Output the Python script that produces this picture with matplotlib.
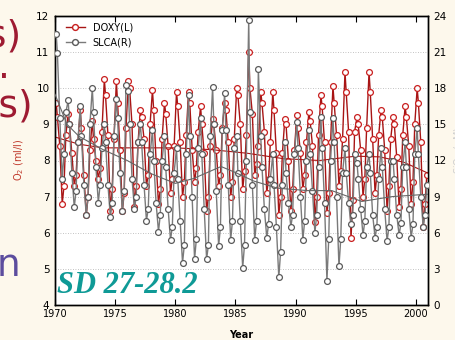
import matplotlib.pyplot as plt
import numpy as np
from matplotlib.lines import Line2D

# sampling: 6 cruises per year (fraction of year)
years = np.arange(1970, 2001)
sample_pos = [0.10, 0.20, 0.40, 0.60, 0.75, 0.90]

# oxygen, ml/l (left axis)
doxy = [
    9.6, 9.2, 8.4, 6.8, 7.3, 8.7,      # 1970
    9.3, 9.0, 8.2, 7.3, 7.6, 8.5,
    9.4, 8.9, 7.6, 6.5, 7.0, 8.3,
    9.1, 8.6, 8.0, 7.5, 7.8, 8.8,
    10.25, 9.8, 8.7, 6.6, 7.2, 8.6,
    10.2, 9.6, 8.3, 6.6, 7.1, 8.9,     # 1975
    10.2, 10.0, 9.0, 6.7, 7.3, 8.5,
    9.4, 9.2, 8.6, 7.3, 7.6, 9.0,
    9.95, 9.4, 8.0, 6.8, 7.2, 8.6,
    9.6, 9.3, 8.4, 7.1, 7.5, 8.4,
    9.9, 9.5, 8.5, 7.0, 7.4, 8.7,      # 1980
    9.9, 9.6, 8.3, 7.4, 7.8, 8.8,
    9.5, 9.0, 8.2, 6.6, 7.0, 8.4,
    9.15, 9.0, 8.3, 7.3, 7.6, 8.9,
    9.6, 9.4, 8.5, 7.0, 7.4, 8.6,
    10.0, 9.8, 9.0, 7.2, 7.7, 8.7,     # 1985
    11.0, 10.0, 9.3, 7.6, 7.9, 8.4,
    9.9, 9.6, 8.8, 7.1, 7.5, 8.5,
    9.9, 9.4, 8.2, 6.5, 7.0, 8.2,
    9.15, 9.0, 8.0, 6.6, 7.2, 8.3,
    9.25, 8.9, 8.2, 7.2, 7.6, 8.5,     # 1990
    9.35, 9.1, 8.4, 6.3, 7.0, 8.7,
    9.8, 9.5, 8.5, 6.55, 7.1, 8.5,
    10.05, 9.6, 8.7, 7.3, 7.7, 8.6,
    10.45, 9.9, 8.8, 5.85, 6.9, 8.8,
    9.2, 9.0, 8.3, 7.0, 7.5, 8.9,      # 1995
    10.45, 9.9, 8.6, 7.1, 7.6, 8.7,
    9.4, 9.2, 8.3, 6.6, 7.3, 8.6,
    9.2, 9.0, 8.1, 6.7, 7.2, 8.7,
    9.5, 9.2, 8.4, 6.8, 7.4, 9.0,
    10.0, 9.6, 8.5, 6.15, 6.8, 7.6,    # 2000
]

# silicate (right axis)
slca = [
    22.5, 20.9, 15.5, 10.5, 12.5, 16.0,   # 1970
    17.0, 15.0, 11.0, 8.1, 9.5, 13.5,
    16.5, 14.0, 10.0, 7.5, 9.0, 15.0,
    18.0, 16.0, 11.5, 8.5, 10.0, 13.0,
    15.0, 13.5, 10.0, 7.3, 8.5, 14.0,
    17.1, 15.5, 11.0, 7.8, 9.5, 18.3,     # 1975
    17.8, 15.0, 10.5, 8.0, 9.0, 13.5,
    15.0, 13.5, 10.0, 7.0, 8.0, 12.5,
    14.5, 12.0, 8.5, 6.1, 7.5, 12.0,
    14.0, 11.5, 8.0, 5.4, 6.5, 11.0,
    13.0, 10.5, 7.0, 3.5, 5.0, 12.5,      # 1980
    17.4, 14.0, 9.0, 3.8, 5.5, 13.0,
    15.5, 12.5, 8.0, 3.8, 5.0, 14.0,
    18.1, 15.0, 9.5, 4.9, 6.5, 14.5,
    17.6, 14.5, 10.0, 5.4, 7.0, 13.0,
    14.0, 11.0, 7.0, 3.1, 5.0, 12.0,      # 1985
    23.7, 16.0, 10.0, 5.4, 7.0, 19.6,
    14.0, 11.5, 8.0, 5.6, 6.7, 10.5,
    12.5, 10.0, 6.5, 2.3, 4.4, 10.0,
    13.5, 11.0, 8.5, 6.5, 7.5, 12.5,
    15.2, 13.0, 9.0, 5.4, 7.0, 12.0,      # 1990
    14.5, 12.5, 9.5, 6.0, 7.5, 11.5,
    15.6, 13.0, 8.5, 2.0, 5.5, 12.0,
    15.5, 13.5, 9.0, 3.2, 5.5, 11.0,
    13.0, 11.0, 8.5, 6.7, 7.5, 12.5,
    11.8, 10.5, 8.0, 5.8, 7.0, 11.5,      # 1995
    12.5, 11.0, 7.5, 5.6, 6.5, 10.5,
    13.0, 11.5, 8.0, 5.3, 6.5, 12.0,
    12.0, 10.5, 7.5, 5.8, 6.8, 11.5,
    13.5, 11.5, 8.0, 5.6, 6.7, 12.5,
    14.7, 12.5, 9.0, 6.5, 7.5, 10.0,      # 2000
]

# smoothed trends
doxy_trend_t = [1970, 1972, 1974, 1977, 1980, 1983, 1986, 1989, 1992, 1995, 1997, 1999, 2001]
doxy_trend = [8.65, 8.45, 8.35, 8.35, 8.35, 8.3, 8.2, 8.05, 8.0, 8.12, 8.1, 7.95, 7.65]
slca_trend_t = [1970, 1971, 1972, 1974, 1976, 1978, 1980, 1981.5, 1983.8, 1985, 1986.5,
                1988.5, 1991, 1993, 1995.5, 1998, 2001]
slca_trend = [17.5, 15.0, 14.0, 12.9, 12.0, 10.9, 10.1, 10.5, 11.5, 11.0, 10.3,
              9.7, 9.5, 9.5, 8.6, 9.0, 9.2]

t = np.array([y + p for y in years for p in sample_pos])

RED = "#a81515"
RED_M = "#c82020"
GREY = "#7a7a7a"
GREY_M = "#5a5a5a"

fig = plt.figure(figsize=(4.55, 3.40), dpi=100)
fig.patch.set_facecolor("#fdf8ec")
ax = fig.add_axes([55 / 455, 1 - 305 / 340, 373 / 455, 289 / 340])
ax.set_facecolor("white")
ax2 = ax.twinx()

ax.plot(t, doxy, color=RED, lw=1.0, marker="o", ms=4.2, mfc="white", mec=RED_M, mew=0.9, zorder=3)
ax.plot(doxy_trend_t, doxy_trend, color=RED, lw=0.8, zorder=4)
ax2.plot(t, slca, color=GREY, lw=1.0, marker="o", ms=4.2, mfc="white", mec=GREY_M, mew=0.9, zorder=3)
ax2.plot(slca_trend_t, slca_trend, color="#666666", lw=0.8, zorder=4)

ax.set_xlim(1970, 2001)
ax.set_ylim(4, 12)
ax2.set_ylim(0, 24)
ax.set_xticks(range(1970, 2001, 5))
ax.set_yticks(range(4, 13))
ax2.set_yticks(range(0, 25, 3))
for y in range(5, 12):
    ax.axhline(y, color="#b0b0b0", lw=0.6, ls=(0, (1, 2)), zorder=1)

ax.tick_params(axis="x", direction="in", length=4, top=True, labelsize=7, pad=3)
ax.tick_params(axis="y", direction="in", length=0, labelsize=7.5, pad=4)
ax2.tick_params(axis="y", direction="in", length=0, labelsize=7.5, pad=4)
for a in (ax, ax2):
    for s in a.spines.values():
        s.set_linewidth(1.0)

ax.set_xlabel("Year", fontsize=7, fontweight="bold", labelpad=8)
fig.text(19 / 455, 1 - 160 / 340, "O$_2$ (ml/l)", rotation=90, color="#c0392b",
         fontsize=7, ha="center", va="center")
fig.text(452 / 455, 1 - 150 / 340, "SiO$_4$ (µM)", rotation=90, color="#d0d0d0",
         fontsize=7, ha="left", va="center")

handles = [
    Line2D([], [], color=RED, lw=1.0, marker="o", ms=4.2, mfc="white", mec=RED_M),
    Line2D([], [], color=GREY, lw=1.0, marker="o", ms=4.2, mfc="white", mec=GREY_M),
]
leg = ax.legend(handles, ["DOXY(L)", "SLCA(R)"], loc="upper left", frameon=False,
                fontsize=7, handlelength=2.0, labelspacing=0.5, borderaxespad=0.3,
                bbox_to_anchor=(0.01, 1.0))
leg.set_zorder(10)

ax.text(0.005, 0.04, "SD 27-28.2", transform=ax.transAxes, fontsize=22,
        fontweight="bold", style="italic", family="Liberation Serif",
        color="#0f9a96", zorder=10)

# cut-off slide text on the left
fig.text(21 / 455, 1 - 36 / 340, "s)", color="#9e1b32", fontsize=27, ha="right", va="center")
fig.text(10 / 455, 1 - 68 / 340, ".", color="#9e1b32", fontsize=27, ha="right", va="center")
fig.text(33 / 455, 1 - 106 / 340, "rs)", color="#9e1b32", fontsize=27, ha="right", va="center")
fig.text(20 / 455, 1 - 266 / 340, "n", color="#5c4d9e", fontsize=27, ha="right", va="center")

fig.savefig("out.png", dpi=100, facecolor=fig.get_facecolor())
